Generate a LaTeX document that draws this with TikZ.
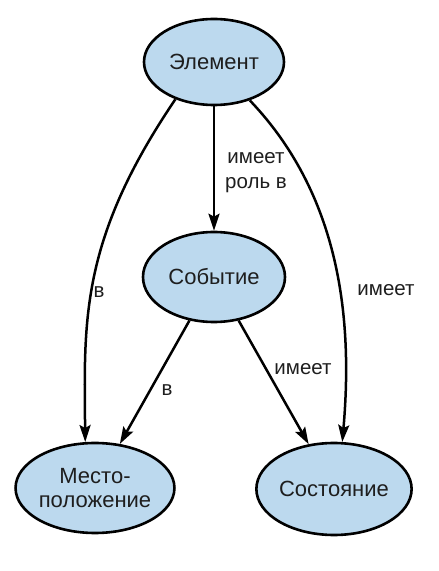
\documentclass[tikz,border=0pt]{standalone}
\usepackage{fontspec}
\setmainfont{Liberation Sans}
\usetikzlibrary{arrows.meta,shapes.geometric}
\definecolor{nodefill}{RGB}{188,217,238}
\definecolor{txt}{RGB}{30,30,30}
\begin{document}
\begin{tikzpicture}[x=1pt,y=1pt,
  concept/.style={ellipse,draw=black,line width=2.6pt,fill=nodefill,inner sep=0pt,
    text=txt,font=\fontsize{22}{25}\selectfont,align=center},
  rel/.style={line width=2.5pt,-{Stealth[length=17pt,width=11pt,inset=3pt]}},
  lbl/.style={text=txt,font=\fontsize{20.5}{25}\selectfont,align=center,inner sep=0pt}]
\useasboundingbox (0,0) rectangle (439,571);
\node[concept,minimum width=140pt,minimum height=86pt] (el) at (214,509) {Элемент};
\node[concept,minimum width=142pt,minimum height=90pt] (ev) at (214,294) {Событие};
\node[concept,minimum width=140pt,minimum height=90pt] (loc) at (95,83) {Место-\\[-1pt]положение};
\node[concept,minimum width=138pt,minimum height=92pt] (st) at (334,82) {Состояние};
\draw[rel] (el) -- (ev);
\draw[rel] (ev) -- (loc);
\draw[rel] (ev) -- (st);
\draw[rel] (el.224) .. controls (80,331) and (84,251) .. (loc.102);
\draw[rel] (el.313) .. controls (345,371) and (352,241) .. (st.80);
\node[lbl] (l1) at (256,398) {имеет\\роль в};
\node[lbl] (l2) at (99,279) {в};
\node[lbl] (l3) at (167,181) {в};
\node[lbl] (l4) at (303,202) {имеет};
\node[lbl] (l5) at (386,281) {имеет};
\end{tikzpicture}
\end{document}
